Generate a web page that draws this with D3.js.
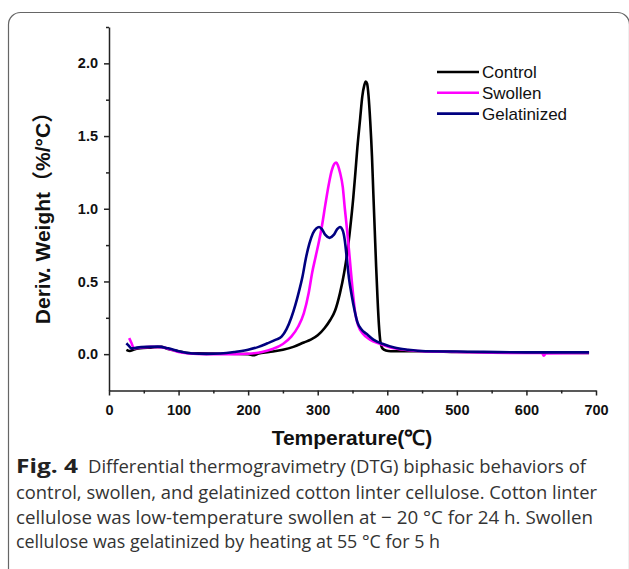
<!DOCTYPE html>
<html>
<head>
<meta charset="utf-8">
<script src="https://cdn.jsdelivr.net/npm/d3@7"></script>
<style>
  html, body { margin: 0; padding: 0; background: #fff; }
  svg { display: block; }
</style>
</head>
<body>
<svg id="chart" width="629" height="569"></svg>
<script>
// ---- data ----
const seriesNames = ["Control", "Swollen", "Gelatinized"];
const seriesColors = ["#000000", "#ff00ff", "#000080"];

const controlT = [25, 30, 35, 45, 60, 75, 85, 100, 110, 130, 160, 200, 208, 215, 230, 250, 265, 280, 290, 300, 310, 318, 325, 332, 338, 342, 347, 351, 354, 357, 361, 364, 367, 369, 371, 373, 375.5, 378, 380, 382, 384, 386, 388, 390, 393, 398, 405, 410, 450, 500, 600, 690];
const controlV = [0.03, 0.022, 0.03, 0.04, 0.045, 0.05, 0.035, 0.02, 0.01, 0.005, 0.003, 0.0, -0.008, 0.005, 0.015, 0.03, 0.05, 0.08, 0.1, 0.13, 0.18, 0.235, 0.3, 0.42, 0.56, 0.68, 0.88, 1.07, 1.24, 1.42, 1.62, 1.77, 1.85, 1.875, 1.86, 1.78, 1.6, 1.36, 1.1, 0.85, 0.6, 0.38, 0.2, 0.09, 0.04, 0.025, 0.02, 0.02, 0.02, 0.015, 0.01, 0.008];

const swollenT = [29, 32, 36, 45, 60, 75, 90, 100, 115, 140, 180, 205, 220, 235, 250, 262, 272, 280, 287, 292, 297, 302, 306, 311, 316, 320, 324, 326.5, 329, 332, 336, 339, 342.5, 346, 350, 354, 358, 365, 375, 390, 410, 450, 500, 600, 622, 625, 628, 690];
const swollenV = [0.11, 0.08, 0.04, 0.045, 0.05, 0.048, 0.03, 0.015, 0.005, 0.0, 0.0, 0.005, 0.015, 0.035, 0.07, 0.12, 0.19, 0.28, 0.42, 0.56, 0.67, 0.78, 0.88, 1.03, 1.17, 1.26, 1.31, 1.318, 1.3, 1.25, 1.15, 1.0, 0.84, 0.66, 0.45, 0.28, 0.2, 0.14, 0.1, 0.07, 0.04, 0.02, 0.015, 0.008, 0.01, -0.01, 0.005, 0.008];

const gelT = [25, 28, 32, 40, 55, 70, 85, 100, 120, 140, 160, 180, 200, 215, 228, 240, 248, 255, 262, 268, 273, 278, 283, 288, 293, 298, 302, 306, 311, 317, 323, 328, 332, 336, 339, 342, 345, 349, 353, 357, 363, 370, 380, 394, 410, 430, 455, 500, 600, 690];
const gelV = [0.075, 0.06, 0.04, 0.045, 0.05, 0.052, 0.04, 0.02, 0.005, 0.002, 0.005, 0.015, 0.03, 0.05, 0.075, 0.1, 0.12, 0.17, 0.25, 0.34, 0.43, 0.53, 0.66, 0.76, 0.83, 0.865, 0.875, 0.86, 0.82, 0.8, 0.82, 0.86, 0.875, 0.85, 0.78, 0.65, 0.52, 0.4, 0.3, 0.22, 0.17, 0.14, 0.1, 0.07, 0.045, 0.03, 0.02, 0.018, 0.012, 0.012];

const xMajorTicks = [0, 100, 200, 300, 400, 500, 600, 700];
const xMinorTicks = [50, 150, 250, 350, 450, 550, 650];
const yMajorTicks = [0, 0.5, 1.0, 1.5, 2.0];
const yMinorTicks = [0.25, 0.75, 1.25, 1.75, 2.25];

const xTitle = "Temperature(℃)";
const yTitle = "Deriv. Weight（%/°C）";
const captionBold = "Fig. 4";
const captionLines = [
  "Differential thermogravimetry (DTG) biphasic behaviors of",
  "control, swollen, and gelatinized cotton linter cellulose. Cotton linter",
  "cellulose was low-temperature swollen at − 20 °C for 24 h. Swollen",
  "cellulose was gelatinized by heating at 55 °C for 5 h"
];

// ---- drawing ----
const svg = d3.select("#chart");
const axisFont = "'Liberation Sans', Arial, sans-serif";

// outer frame
svg.append("rect")
  .attr("x", 8.5).attr("y", 12.5)
  .attr("width", 621).attr("height", 600)
  .attr("rx", 12).attr("ry", 12)
  .attr("fill", "none").attr("stroke", "#666").attr("stroke-width", 1.2);

const x = d3.scaleLinear().domain([0, 700]).range([109, 596]);
const y = d3.scaleLinear().domain([-0.25, 2.25]).range([390.5, 27]);

// axes
const gx = svg.append("g").attr("transform", `translate(0,${y(-0.25)})`);
gx.call(d3.axisBottom(x).tickValues(xMajorTicks).tickSize(5).tickSizeOuter(0).tickPadding(9)
  .tickFormat(d3.format("d")));
const gxm = svg.append("g").attr("transform", `translate(0,${y(-0.25)})`);
gxm.call(d3.axisBottom(x).tickValues(xMinorTicks).tickSize(3).tickSizeOuter(0).tickFormat(""));
gxm.select(".domain").remove();

const gy = svg.append("g").attr("transform", `translate(${x(0)},0)`);
gy.call(d3.axisLeft(y).tickValues(yMajorTicks).tickSize(5).tickSizeOuter(0).tickPadding(6)
  .tickFormat(d3.format(".1f")));
const gym = svg.append("g").attr("transform", `translate(${x(0)},0)`);
gym.call(d3.axisLeft(y).tickValues(yMinorTicks).tickSize(3).tickSizeOuter(0).tickFormat(""));
gym.select(".domain").remove();

svg.selectAll(".domain, .tick line").attr("stroke", "#222").attr("stroke-width", 1.5);
svg.selectAll(".tick text")
  .attr("font-family", axisFont).attr("font-weight", "bold")
  .attr("font-size", 14.5).attr("fill", "#111");

// series
const line = d3.line().x(d => x(d[0])).y(d => y(d[1])).curve(d3.curveMonotoneX);
const seriesData = [
  d3.zip(controlT, controlV),
  d3.zip(swollenT, swollenV),
  d3.zip(gelT, gelV)
];
seriesData.forEach((pts, i) => {
  svg.append("path").datum(pts)
    .attr("d", line)
    .attr("fill", "none")
    .attr("stroke", seriesColors[i])
    .attr("stroke-width", 2.6)
    .attr("stroke-linejoin", "round");
});

// legend
const legend = svg.append("g");
seriesNames.forEach((name, i) => {
  const ly = 72 + i * 20.8;
  legend.append("line")
    .attr("x1", 437).attr("x2", 479).attr("y1", ly).attr("y2", ly)
    .attr("stroke", seriesColors[i]).attr("stroke-width", 2.6);
  legend.append("text")
    .attr("x", 482).attr("y", ly).attr("dy", "0.35em")
    .attr("font-family", axisFont).attr("font-size", 17).attr("fill", "#111")
    .text(name);
});

// axis titles
svg.append("text")
  .attr("x", 352).attr("y", 445)
  .attr("text-anchor", "middle")
  .attr("font-family", axisFont).attr("font-weight", "bold").attr("font-size", 21)
  .attr("fill", "#111")
  .text(xTitle);

svg.append("text")
  .attr("transform", "translate(50,213) rotate(-90)")
  .attr("text-anchor", "middle")
  .attr("font-family", axisFont + ", 'Noto Sans CJK SC'").attr("font-weight", "bold").attr("font-size", 21)
  .attr("fill", "#111")
  .text(yTitle);

// caption
const capFont = "'Open Sans', 'Noto Sans', sans-serif";
const capBaselines = [473, 499, 523.5, 548];
const capStarts = [88, 16, 16, 16];
const capEnds = [586, 597, 593, 440];
svg.append("text")
  .attr("x", 16).attr("y", capBaselines[0])
  .attr("font-family", capFont).attr("font-weight", "bold").attr("font-size", 19)
  .attr("fill", "#222")
  .attr("textLength", 62).attr("lengthAdjust", "spacingAndGlyphs")
  .text(captionBold);
captionLines.forEach((t, i) => {
  svg.append("text")
    .attr("x", capStarts[i]).attr("y", capBaselines[i])
    .attr("font-family", capFont).attr("font-size", 19)
    .attr("fill", "#333")
    .attr("textLength", capEnds[i] - capStarts[i]).attr("lengthAdjust", "spacingAndGlyphs")
    .text(t);
});
</script>
</body>
</html>
